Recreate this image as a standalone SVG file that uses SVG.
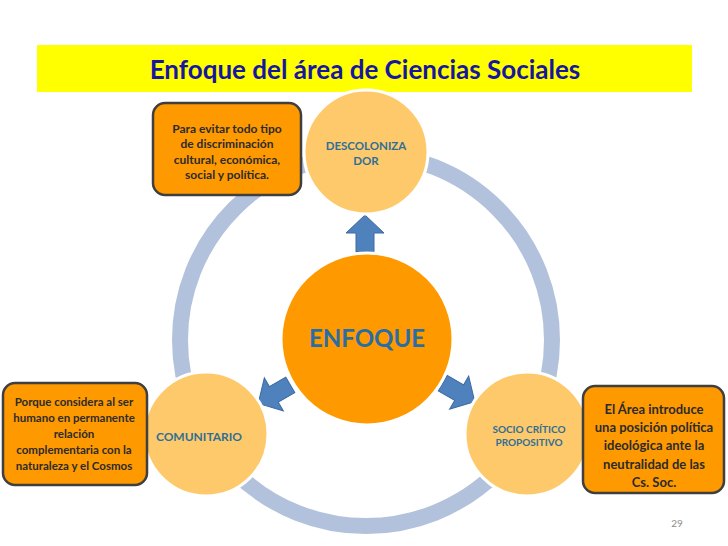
<svg xmlns="http://www.w3.org/2000/svg" width="728" height="546" viewBox="0 0 728 546">
<style>
.note{fill:#ff9900;stroke:#3f3f3f;stroke-width:2.5}
.nt{font-family:Lato,"Open Sans",sans-serif;font-weight:bold;fill:#2b2b2b;text-anchor:middle}
.sat{fill:#fec96a;stroke:#ffffff;stroke-width:3}
.st{font-family:Lato,"Open Sans",sans-serif;font-weight:bold;fill:#2f6f97;text-anchor:middle}
.arr{fill:#4f81bd;stroke:#3a6aa3;stroke-width:1}
</style>
<rect width="728" height="546" fill="#ffffff"/>
<g id="title">
<rect x="37" y="45" width="655" height="47" fill="#ffff00"/>
<text x="365" y="79" font-family="Lato,'Open Sans',sans-serif" font-weight="bold" font-size="26" fill="#1616a0" text-anchor="middle">Enfoque del área de Ciencias Sociales</text>
</g>
<g id="ring">
<circle cx="366" cy="340" r="186" fill="none" stroke="#b3c2dc" stroke-width="16"/>
</g>
<g id="connectors">
<polygon class="arr" points="356,252 356,233 346,233 365,215 384,233 374,233 374,252"/>
<polygon class="arr" transform="rotate(-120 366 340)" points="356,252 356,233 346,233 365,215 384,233 374,233 374,252"/>
<polygon class="arr" transform="rotate(120 366 340)" points="356,252 356,233 346,233 365,215 384,233 374,233 374,252"/>
</g>
<g id="enfoque">
<circle cx="367" cy="339" r="86" fill="#ff9900" stroke="#ffffff" stroke-width="3"/>
<text x="367" y="347" font-family="Lato,'Open Sans',sans-serif" font-weight="bold" font-size="24" fill="#2a6da5" text-anchor="middle">ENFOQUE</text>
</g>
<g id="descolonizador">
<circle class="sat" cx="366" cy="152" r="62"/>
<text class="st" x="366" y="150" font-size="11.5">DESCOLONIZA</text>
<text class="st" x="366" y="165" font-size="11.5">DOR</text>
</g>
<g id="comunitario">
<circle class="sat" cx="206" cy="434" r="62"/>
<text class="st" x="199" y="441" font-size="12">COMUNITARIO</text>
</g>
<g id="sociocritico">
<circle class="sat" cx="527" cy="434" r="62"/>
<text class="st" x="529" y="433" font-size="10">SOCIO CRÍTICO</text>
<text class="st" x="529" y="446" font-size="10">PROPOSITIVO</text>
</g>
<g id="note-top">
<rect class="note" x="153" y="103" width="148" height="92" rx="12"/>
<text class="nt" x="227" y="133" font-size="12">Para evitar todo tipo</text>
<text class="nt" x="227" y="148" font-size="12">de discriminación</text>
<text class="nt" x="227" y="164" font-size="12">cultural, económica,</text>
<text class="nt" x="227" y="179" font-size="12">social y política.</text>
</g>
<g id="note-left">
<rect class="note" x="3" y="383" width="144" height="102" rx="12"/>
<text class="nt" x="74" y="406" font-size="11.5">Porque considera al ser</text>
<text class="nt" x="74" y="422" font-size="11.5">humano en permanente</text>
<text class="nt" x="74" y="438" font-size="11.5">relación</text>
<text class="nt" x="74" y="454" font-size="11.5">complementaria  con la</text>
<text class="nt" x="74" y="470" font-size="11.5">naturaleza y el Cosmos</text>
</g>
<g id="note-right">
<rect class="note" x="583" y="386" width="141" height="107" rx="12"/>
<text class="nt" x="654" y="414" font-size="13">El Área introduce</text>
<text class="nt" x="654" y="432" font-size="13">una posición política</text>
<text class="nt" x="654" y="450" font-size="13">ideológica ante la</text>
<text class="nt" x="654" y="469" font-size="13">neutralidad de las</text>
<text class="nt" x="654" y="487" font-size="13">Cs. Soc.</text>
</g>
<text x="677" y="527" font-family="Lato,'Open Sans',sans-serif" font-size="10" fill="#8c8c8c" text-anchor="middle">29</text>
</svg>
